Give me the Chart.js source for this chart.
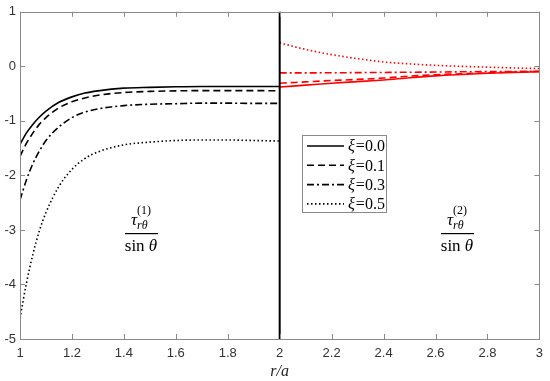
<!DOCTYPE html>
<html><head><meta charset="utf-8">
<script src="https://cdn.jsdelivr.net/npm/chart.js@4/dist/chart.umd.min.js"></script>
<style>html,body{margin:0;padding:0;background:#fff}canvas{display:block}</style>
</head><body>
<canvas id="c" width="550" height="381"></canvas>
<script>
const rLeft = [1.0,1.025,1.05,1.075,1.1,1.15,1.2,1.25,1.3,1.4,1.5,1.6,1.7,1.8,1.9,2.0];
const left00 = [-1.43,-1.22,-1.06,-0.93,-0.82,-0.66,-0.56,-0.49,-0.45,-0.40,-0.385,-0.375,-0.37,-0.37,-0.37,-0.37];
const left01 = [-1.65,-1.41,-1.22,-1.06,-0.94,-0.76,-0.65,-0.58,-0.53,-0.48,-0.46,-0.45,-0.445,-0.445,-0.445,-0.45];
const left03 = [-2.45,-2.08,-1.78,-1.55,-1.36,-1.11,-0.94,-0.84,-0.78,-0.72,-0.695,-0.685,-0.675,-0.675,-0.68,-0.68];
const left05 = [-4.62,-3.97,-3.44,-3.01,-2.68,-2.20,-1.89,-1.69,-1.57,-1.44,-1.39,-1.36,-1.35,-1.35,-1.36,-1.37];
const rRight = [2.0,2.1,2.2,2.3,2.4,2.5,2.6,2.7,2.8,2.9,3.0];
const right00 = [-0.38,-0.345,-0.31,-0.28,-0.25,-0.21,-0.175,-0.15,-0.128,-0.112,-0.10];
const right01 = [-0.31,-0.285,-0.26,-0.24,-0.215,-0.18,-0.155,-0.135,-0.12,-0.105,-0.095];
const right03 = [-0.12,-0.12,-0.118,-0.115,-0.112,-0.108,-0.105,-0.10,-0.097,-0.094,-0.09];
const right05 = [0.43,0.31,0.215,0.14,0.08,0.045,0.018,0.0,-0.015,-0.03,-0.04];
const legendLabels = ['0.0','0.1','0.3','0.5'];
const xTicks = [1,1.2,1.4,1.6,1.8,2,2.2,2.4,2.6,2.8,3];
const yTicks = [1,0,-1,-2,-3,-4,-5];
const interfaceR = 2;

const dashes = [[], [7,4], [7,3,2,3], [1.5,2.5]];
function pts(xs, ys){ return xs.map((x,i)=>({x:x,y:ys[i]})); }
const leftSeries = [left00,left01,left03,left05];
const rightSeries = [right00,right01,right03,right05];
const datasets = [];
leftSeries.forEach((s,i)=>datasets.push({label:'ξ='+legendLabels[i], data:pts(rLeft,s), borderColor:'#000', borderWidth:1.6, borderDash:dashes[i], pointRadius:0, cubicInterpolationMode:'monotone', fill:false}));
rightSeries.forEach((s,i)=>datasets.push({label:'ξ='+legendLabels[i]+' (2)', data:pts(rRight,s), borderColor:'#ff0000', borderWidth:1.6, borderDash:dashes[i], pointRadius:0, cubicInterpolationMode:'monotone', fill:false}));

const frame = {
  id:'frame',
  afterDatasetsDraw(chart){
    const ctx = chart.ctx, a = chart.chartArea, xs = chart.scales.x, ys = chart.scales.y;
    ctx.save();
    // interface line
    const xi = xs.getPixelForValue(interfaceR);
    ctx.strokeStyle='#000'; ctx.lineWidth=2; ctx.setLineDash([]);
    ctx.beginPath(); ctx.moveTo(xi,a.top); ctx.lineTo(xi,a.bottom); ctx.stroke();
    // box
    ctx.strokeStyle='#8a8a8a'; ctx.lineWidth=1;
    ctx.strokeRect(Math.round(a.left)+0.5, Math.round(a.top)+0.5, Math.round(a.right-a.left), Math.round(a.bottom-a.top));
    // inward ticks
    const tl = 5;
    ctx.beginPath();
    xTicks.forEach(v=>{ const p=Math.round(xs.getPixelForValue(v))+0.5;
      ctx.moveTo(p,a.bottom); ctx.lineTo(p,a.bottom-tl); ctx.moveTo(p,a.top); ctx.lineTo(p,a.top+tl); });
    yTicks.forEach(v=>{ const p=Math.round(ys.getPixelForValue(v))+0.5;
      ctx.moveTo(a.left,p); ctx.lineTo(a.left+tl,p); ctx.moveTo(a.right,p); ctx.lineTo(a.right-tl,p); });
    ctx.stroke();
    // x title
    ctx.fillStyle='#222'; ctx.font='italic 16px "Liberation Serif"'; ctx.textAlign='center'; ctx.textBaseline='alphabetic';
    ctx.fillText('r/a', xs.getPixelForValue(interfaceR), 376);
    // legend
    const lx=302, ly=135, lw=84, lh=77;
    ctx.fillStyle='#fff'; ctx.fillRect(lx,ly,lw,lh);
    ctx.strokeStyle='#8a8a8a'; ctx.lineWidth=1; ctx.strokeRect(lx+0.5,ly+0.5,lw,lh);
    for(let i=0;i<4;i++){
      const y = ly+11+i*19.3;
      ctx.strokeStyle='#000'; ctx.lineWidth=1.6; ctx.setLineDash(dashes[i]);
      ctx.beginPath(); ctx.moveTo(lx+5,y); ctx.lineTo(lx+42,y); ctx.stroke();
      ctx.setLineDash([]);
      ctx.fillStyle='#000'; ctx.textAlign='left'; ctx.textBaseline='middle';
      ctx.font='italic 16px "Liberation Serif"';
      ctx.fillText('ξ', lx+46, y+1);
      const w = ctx.measureText('ξ').width;
      ctx.font='16px "Liberation Serif"';
      ctx.fillText('='+legendLabels[i], lx+46+w+1, y+1);
    }
    // fraction labels
    function frac(cx, sup){
      ctx.fillStyle='#000'; ctx.textBaseline='alphabetic';
      ctx.font='italic 17px "Liberation Serif"';
      const tw = ctx.measureText('τ').width;
      ctx.textAlign='left';
      const tx = cx-10;
      ctx.fillText('τ', tx, 225);
      ctx.font='italic 12px "Liberation Serif"';
      ctx.fillText('rθ', tx+tw, 229);
      ctx.font='12px "Liberation Serif"';
      ctx.fillText('('+sup+')', tx+tw, 214);
      ctx.fillRect(cx-16, 233, 33, 1.2);
      ctx.font='17px "Liberation Serif"';
      const s1='sin ';
      ctx.font='17px "Liberation Serif"'; const w1=ctx.measureText(s1).width;
      ctx.font='italic 17px "Liberation Serif"'; const w2=ctx.measureText('θ').width;
      const sx = cx-(w1+w2)/2;
      ctx.font='17px "Liberation Serif"'; ctx.fillText(s1, sx, 251);
      ctx.font='italic 17px "Liberation Serif"'; ctx.fillText('θ', sx+w1, 251);
    }
    frac(141,'1');
    frac(457,'2');
    ctx.restore();
  }
};

new Chart(document.getElementById('c'), {
  type:'line',
  data:{datasets:datasets},
  options:{
    responsive:false, animation:false,
    layout:{padding:{top:11,right:10,left:0,bottom:0}},
    plugins:{legend:{display:false}, tooltip:{enabled:false}},
    scales:{
      x:{type:'linear', min:1, max:3,
        grid:{display:false, drawTicks:false}, border:{display:false},
        afterBuildTicks(s){ s.ticks = xTicks.map(v=>({value:v})); },
        afterFit(s){ s.height = 42; },
        ticks:{padding:7, color:'#333', font:{family:'"Liberation Sans"', size:13}, maxRotation:0, autoSkip:false, callback:(v)=>String(v)}},
      y:{type:'linear', min:-5, max:1,
        grid:{display:false, drawTicks:false}, border:{display:false},
        afterBuildTicks(s){ s.ticks = yTicks.map(v=>({value:v})); },
        afterFit(s){ s.width = 20; },
        ticks:{padding:4, color:'#333', font:{family:'"Liberation Sans"', size:13}, autoSkip:false, callback:(v)=>String(v)}}
    }
  },
  plugins:[frame]
});
</script>
</body></html>
